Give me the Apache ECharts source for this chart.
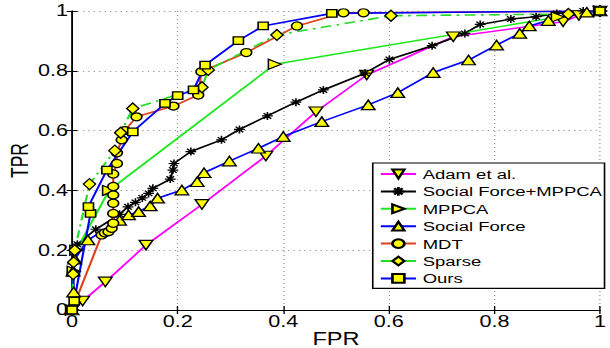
<!DOCTYPE html>
<html>
<head>
<meta charset="utf-8">
<script src="https://cdn.jsdelivr.net/npm/echarts@6/dist/echarts.min.js"></script>
<style>
  html, body { margin: 0; padding: 0; background: #fff; overflow: hidden; }
  /* the reference figure is stretched sideways, so the chart is drawn narrow and widened */
  #chart { width: 452px; height: 348px; transform: scaleX(1.3496); transform-origin: 0 0; }
</style>
</head>
<body>
<div id="chart"></div>
<script>
const xTicks = [0, 0.2, 0.4, 0.6, 0.8, 1]
const yTicks = [0, 0.2, 0.4, 0.6, 0.8, 1]

const adam = [[0, 0], [0.02, 0.03], [0.063, 0.094], [0.14, 0.217], [0.246, 0.353], [0.367, 0.515],
  [0.462, 0.663], [0.558, 0.786], [0.722, 0.914], [0.93, 0.964], [0.96, 0.985], [1, 1]]

const sfMppca = [[0, 0], [0.005, 0.2], [0.01, 0.22], [0.045, 0.27], [0.09, 0.32], [0.106, 0.345],
  [0.12, 0.36], [0.133, 0.375], [0.145, 0.39], [0.153, 0.407], [0.186, 0.438], [0.191, 0.468],
  [0.193, 0.49], [0.225, 0.53], [0.283, 0.569], [0.317, 0.604], [0.37, 0.649], [0.424, 0.695],
  [0.476, 0.736], [0.555, 0.792], [0.601, 0.838], [0.682, 0.884], [0.744, 0.925], [0.773, 0.955],
  [0.831, 0.973], [0.879, 0.981], [0.918, 0.992], [0.968, 1], [1, 1]]

const mppca = [[0, 0], [0.003, 0.13], [0.008, 0.2], [0.07, 0.4], [0.384, 0.822], [0.92, 0.98], [1, 1]]

const socialForce = [[0, 0], [0.003, 0.06], [0.002, 0.13], [0.005, 0.17], [0.03, 0.234], [0.09, 0.3],
  [0.107, 0.318], [0.126, 0.329], [0.148, 0.348], [0.162, 0.374], [0.208, 0.401], [0.237, 0.429],
  [0.25, 0.459], [0.298, 0.498], [0.353, 0.541], [0.4, 0.58], [0.473, 0.63], [0.561, 0.686],
  [0.617, 0.727], [0.684, 0.794], [0.751, 0.836], [0.804, 0.886], [0.848, 0.925], [0.866, 0.95],
  [0.902, 0.968], [0.975, 0.996], [1, 1]]

const mdt = [[0, 0], [0.056, 0.251], [0.062, 0.258], [0.069, 0.262], [0.075, 0.273], [0.078, 0.29],
  [0.078, 0.323], [0.078, 0.357], [0.078, 0.385], [0.078, 0.413], [0.078, 0.455], [0.085, 0.49],
  [0.085, 0.526], [0.094, 0.569], [0.1, 0.6], [0.122, 0.646], [0.192, 0.682], [0.239, 0.719],
  [0.245, 0.797], [0.33, 0.861], [0.426, 0.95], [0.514, 0.994], [0.552, 0.994], [1, 1]]

const sparse = [[0, 0], [0.002, 0.12], [0.003, 0.16], [0.005, 0.2], [0.033, 0.421], [0.081, 0.533],
  [0.092, 0.593], [0.115, 0.674], [0.246, 0.745], [0.258, 0.803], [0.388, 0.92], [0.604, 0.984],
  [0.94, 0.99], [1, 1]]

const ours = [[0, 0], [0.004, 0.03], [0.035, 0.323], [0.031, 0.346], [0.066, 0.468], [0.115, 0.596],
  [0.176, 0.691], [0.2, 0.717], [0.23, 0.736], [0.252, 0.819], [0.315, 0.901], [0.362, 0.95],
  [0.492, 0.992], [1, 1]]

const names = ['Adam et al.', 'Social Force+MPPCA', 'MPPCA', 'Social Force', 'MDT', 'Sparse', 'Ours']

const asterisk = 'path://M5,0L5,10M0,5L10,5M1.5,1.5L8.5,8.5M8.5,1.5L1.5,8.5'
const font = 'Liberation Sans, Arial, Helvetica, sans-serif'

function makeSeries(name, data, color, symbol, size, rotate, lineType) {
  return {
    name,
    type: 'line',
    data,
    symbol,
    symbolSize: size,
    symbolRotate: rotate,
    showAllSymbol: true,
    lineStyle: { color, width: 1.6, type: lineType || 'solid' },
    itemStyle: {
      color: symbol === asterisk ? '#000' : '#ffff00',
      borderColor: '#000',
      borderWidth: 1.2
    }
  }
}

const chart = echarts.init(document.getElementById('chart'), null, { renderer: 'svg' })

chart.setOption({
  animation: false,
  textStyle: { fontFamily: font },
  grid: { left: 53.4, right: 7.4, top: 11, bottom: 38, outerBoundsMode: 'none', containLabel: false },
  xAxis: [{
    type: 'value',
    min: 0,
    max: 1,
    interval: 0.2,
    name: 'FPR',
    nameLocation: 'middle',
    nameGap: 20,
    nameMoveOverlap: false,
    nameTextStyle: { fontSize: 17.5, color: '#000', fontFamily: font },
    axisLine: { lineStyle: { color: '#000', width: 1.2 } },
    axisTick: { inside: true, length: 4, lineStyle: { color: '#000' } },
    axisLabel: {
      fontSize: 16,
      color: '#000',
      margin: 4,
      formatter: v => String(xTicks.find(t => Math.abs(t - v) < 1e-9) ?? v)
    },
    splitLine: { lineStyle: { color: '#9a9a9a', type: [1, 3] } }
  }, {
    type: 'value',
    position: 'top',
    min: 0,
    max: 1,
    interval: 0.2,
    axisLine: { lineStyle: { color: '#000', width: 1.2 } },
    axisTick: { inside: true, length: 4, lineStyle: { color: '#000' } },
    axisLabel: { show: false },
    splitLine: { show: false }
  }],
  yAxis: [{
    type: 'value',
    min: 0,
    max: 1,
    interval: 0.2,
    name: 'TPR',
    nameLocation: 'middle',
    nameGap: 30,
    nameMoveOverlap: false,
    nameTextStyle: { fontSize: 17.5, color: '#000', fontFamily: font },
    axisLine: { lineStyle: { color: '#000', width: 1.2 } },
    axisTick: { inside: true, length: 4, lineStyle: { color: '#000' } },
    axisLabel: {
      fontSize: 16,
      color: '#000',
      margin: 3,
      formatter: v => String(yTicks.find(t => Math.abs(t - v) < 1e-9) ?? v)
    },
    splitLine: { lineStyle: { color: '#9a9a9a', type: [1, 3] } }
  }, {
    type: 'value',
    position: 'right',
    min: 0,
    max: 1,
    interval: 0.2,
    axisLine: { lineStyle: { color: '#000', width: 1.2 } },
    axisTick: { inside: true, length: 4, lineStyle: { color: '#000' } },
    axisLabel: { show: false },
    splitLine: { show: false }
  }],
  legend: {
    data: names,
    orient: 'vertical',
    left: 276.2,
    top: 163,
    padding: [4, 2, 3, 5],
    itemWidth: 26,
    itemHeight: 11,
    itemGap: 3.4,
    backgroundColor: '#fff',
    borderColor: '#000',
    borderWidth: 1.2,
    borderRadius: 0,
    textStyle: { fontSize: 13.7, color: '#000', fontFamily: font }
  },
  series: [
    makeSeries(names[0], adam, '#ff00ff', 'triangle', [10, 9.5], 180),
    makeSeries(names[1], sfMppca, '#000', asterisk, 8, 0),
    makeSeries(names[2], mppca, '#1ee81e', 'triangle', [10, 9.5], -90),
    makeSeries(names[3], socialForce, '#0000ff', 'triangle', [10, 9.5], 0),
    makeSeries(names[4], mdt, '#e0401a', 'circle', 8, 0),
    makeSeries(names[5], sparse, '#22dd22', 'diamond', [9, 11], 0, [8, 4, 2, 4]),
    makeSeries(names[6], ours, '#0000ff', 'rect', 7.5, 0)
  ]
})
</script>
</body>
</html>
